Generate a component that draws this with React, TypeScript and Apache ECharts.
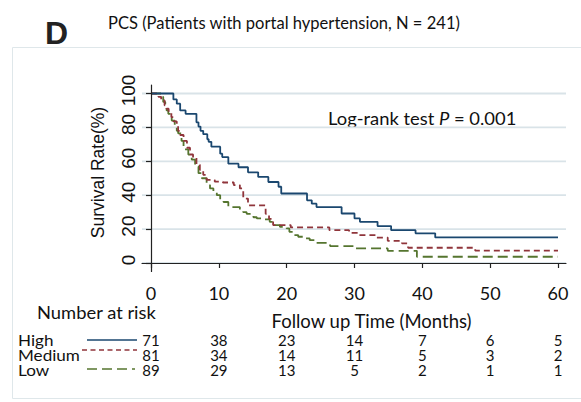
import React, { useEffect, useRef } from "react";
import * as echarts from "echarts";

const xTicks = [0, 10, 20, 30, 40, 50, 60];
const yTicks = [0, 20, 40, 60, 80, 100];
const groupNames = ["High", "Medium", "Low"];
const riskHigh = [71, 38, 23, 14, 7, 6, 5];
const riskMedium = [81, 34, 14, 11, 5, 3, 2];
const riskLow = [89, 29, 13, 5, 2, 1, 1];

const highCurve = [
  [0, 100], [3.3, 96.5], [3.8, 94], [4.3, 90], [5.1, 88], [6.7, 83], [7.0, 80.5], [7.3, 78],
  [7.7, 76], [8.3, 73], [8.5, 71.5], [8.9, 68.6], [10.2, 64.5], [10.5, 62.5], [11.4, 58.6],
  [12.9, 56.5], [14.3, 53.5], [15.8, 50.8], [17.3, 47.8], [18.8, 45], [19.2, 41], [23.0, 37],
  [23.7, 35], [24.4, 33], [28.1, 29.2], [30.0, 26.3], [30.8, 24.3], [33.4, 21.8], [35.4, 19.4],
  [39.0, 17.5], [41.9, 15.1], [60, 15.1],
];
const mediumCurve = [
  [0, 100], [1.1, 98], [1.5, 96], [2.0, 93], [2.3, 91], [2.6, 89], [3.0, 86], [3.3, 83.5],
  [3.8, 81], [4.0, 78], [4.3, 75.5], [4.8, 72], [5.3, 68], [5.75, 64], [6.2, 62], [6.7, 58],
  [7.2, 55], [7.7, 52], [8.2, 49], [9.4, 48], [10.6, 47.5], [12.2, 46], [13.1, 44], [13.6, 38],
  [14.3, 34], [16.9, 29], [17.4, 26], [18.0, 22.4], [20.6, 21], [26.3, 19.4], [29.2, 17.8],
  [30.5, 16.5], [33.3, 15], [34.9, 13.1], [37.0, 11.6], [37.9, 9], [47.8, 7.3], [60, 7.3],
];
const lowCurve = [
  [0, 100], [1.5, 98], [1.8, 95], [2.1, 93], [2.3, 90], [2.55, 88], [2.8, 86], [3.05, 84],
  [3.5, 81], [3.8, 78], [4.0, 76.5], [4.5, 72], [4.8, 69], [5.0, 67], [5.5, 64], [6.0, 61],
  [6.5, 57], [7.0, 53], [7.5, 50], [8.2, 46], [8.7, 44], [9.2, 42], [9.7, 40], [10.2, 37],
  [10.7, 36], [11.4, 33], [13.1, 31], [13.6, 30], [14.1, 29], [14.6, 28], [15.1, 27],
  [15.6, 26.3], [16.6, 25.7], [17.5, 24.3], [18.3, 22.4], [19.0, 21.4], [20.0, 20.4],
  [20.4, 18.4], [21.0, 16.5], [21.7, 15.5], [22.7, 14.5], [23.4, 13.5], [24.4, 11.9],
  [26.4, 10], [30.0, 8.6], [34.9, 7.2], [39.2, 3.7], [60, 3.7],
];

const colors = ["#1a476f", "#90353b", "#55752f"];
const CAL = "Lato, 'Open Sans', sans-serif";
const ARIAL = "'Liberation Sans', Arial, sans-serif";

const X_MIN = -1.327;
const X_MAX = 61.18;

function riskAxis(values: number[], offset: number) {
  return {
    type: "value",
    min: X_MIN,
    max: X_MAX,
    position: "bottom",
    offset,
    axisLine: { show: false },
    axisTick: { show: false },
    splitLine: { show: false },
    axisLabel: {
      customValues: xTicks,
      margin: 14,
      fontFamily: CAL,
      fontSize: 15,
      lineHeight: 15,
      color: "#111",
      formatter: (v: number) => {
        const i = xTicks.indexOf(Math.round(v));
        return i >= 0 ? String(values[i]) : "";
      },
    },
  };
}

export default function App() {
  const ref = useRef<HTMLDivElement>(null);
  useEffect(() => {
    if (!ref.current) return;
    const chart = echarts.init(ref.current, null, { renderer: "svg" });
    const axisLineStyle = { color: "#222", width: 1.2 };
    const rowY = [340, 355.2, 370.4];
    const lineY = [340, 350, 369];
    const dashes: any[] = [null, [5, 3.5], [10, 5]];
    const sampleX = [[87, 137], [82, 137], [87, 135]];
    const gridSeries = yTicks.map((v) => ({
      type: "line",
      name: "grid" + v,
      data: [[X_MIN, v], [X_MAX, v]],
      symbol: "none",
      silent: true,
      clip: false,
      z: 1,
      lineStyle: { color: "#d9e3e8", width: 1.8, type: "solid" },
    }));
    chart.setOption({
      animation: false,
      backgroundColor: "#ffffff",
      grid: { left: 142, right: 15, top: 85, bottom: 130.5 },
      xAxis: [
        {
          type: "value",
          min: X_MIN,
          max: X_MAX,
          position: "bottom",
          z: 10,
          axisLine: { lineStyle: axisLineStyle },
          axisTick: { show: true, length: 5, customValues: xTicks, lineStyle: axisLineStyle },
          axisLabel: {
            customValues: xTicks,
            margin: 11.5,
            fontFamily: CAL,
            fontSize: 18,
            lineHeight: 20,
            color: "#111",
          },
          splitLine: { show: false },
          name: "Follow up Time (Months)",
          nameLocation: "middle",
          nameGap: 40.5,
          nameTextStyle: {
            fontFamily: CAL,
            fontSize: 18.5,
            lineHeight: 18,
            color: "#111",
            padding: [0, 0, 0, 35],
          },
        },
        riskAxis(riskHigh, 47),
        riskAxis(riskMedium, 62.2),
        riskAxis(riskLow, 77.4),
      ],
      yAxis: {
        type: "value",
        min: -5,
        max: 105,
        splitNumber: 5,
        z: 10,
        axisLine: { show: true, lineStyle: axisLineStyle },
        axisTick: { show: true, length: 5, customValues: yTicks, lineStyle: axisLineStyle },
        axisLabel: {
          customValues: yTicks,
          rotate: 90,
          margin: 5,
          fontFamily: ARIAL,
          fontSize: 19,
          lineHeight: 18,
          color: "#111",
          padding: [0, 0, 0, 6],
        },
        splitLine: { show: false },
        name: "Survival Rate(%)",
        nameLocation: "middle",
        nameRotate: 90,
        nameGap: 34,
        nameTextStyle: {
          fontFamily: ARIAL,
          fontSize: 17.5,
          lineHeight: 20,
          color: "#111",
          padding: [0, 0, 0, 11.5],
        },
      },
      series: [
        ...gridSeries,
        {
          type: "line",
          name: "Low",
          data: lowCurve,
          step: "end",
          symbol: "none",
          z: 3,
          lineStyle: { color: colors[2], width: 1.8, type: [10, 5] },
        },
        {
          type: "line",
          name: "Medium",
          data: mediumCurve,
          step: "end",
          symbol: "none",
          z: 4,
          lineStyle: { color: colors[1], width: 1.8, type: [6, 4] },
        },
        {
          type: "line",
          name: "High",
          data: highCurve,
          step: "end",
          symbol: "none",
          z: 5,
          lineStyle: { color: colors[0], width: 1.8, type: "solid" },
        },
      ],
      graphic: [
        {
          type: "rect",
          silent: true,
          shape: { x: 12.5, y: 47.5, width: 600, height: 351 },
          style: { fill: "none", stroke: "#dfe7ea", lineWidth: 1 },
          z: -10,
        },
        {
          type: "text",
          x: 45,
          y: 33,
          style: { text: "D", font: `bold 32px ${ARIAL}`, fill: "#222", verticalAlign: "middle" },
        },
        {
          type: "text",
          x: 108,
          y: 22,
          scaleX: 0.92,
          style: {
            text: "PCS (Patients with portal hypertension, N = 241)",
            font: `18px ${CAL}`,
            fill: "#111",
            verticalAlign: "middle",
          },
        },
        {
          type: "text",
          x: 328,
          y: 118,
          scaleX: 1.05,
          style: {
            text: "Log-rank test {i|P} = 0.001",
            fontFamily: CAL,
            fontSize: 17.5,
            fill: "#111",
            verticalAlign: "middle",
            rich: { i: { fontFamily: CAL, fontSize: 17.5, fontStyle: "italic", fill: "#111" } },
          },
        },
        {
          type: "text",
          x: 37,
          y: 313,
          scaleX: 1.08,
          style: { text: "Number at risk", font: `17px ${CAL}`, fill: "#111", verticalAlign: "middle" },
        },
        ...groupNames.map((g, i) => ({
          type: "text",
          x: 18,
          y: rowY[i],
          scaleX: 1.14,
          style: { text: g, font: `15px ${CAL}`, fill: "#111", verticalAlign: "middle" },
        })),
        ...groupNames.map((g, i) => ({
          type: "line",
          shape: { x1: sampleX[i][0], y1: lineY[i], x2: sampleX[i][1], y2: lineY[i] },
          style: { stroke: colors[i], lineWidth: 1.6, lineDash: dashes[i] },
        })),
      ],
    });
    return () => chart.dispose();
  }, []);
  return (
    <div
      ref={ref}
      style={{ position: "fixed", left: 0, top: 0, width: 581, height: 402, background: "#fff" }}
    />
  );
}
